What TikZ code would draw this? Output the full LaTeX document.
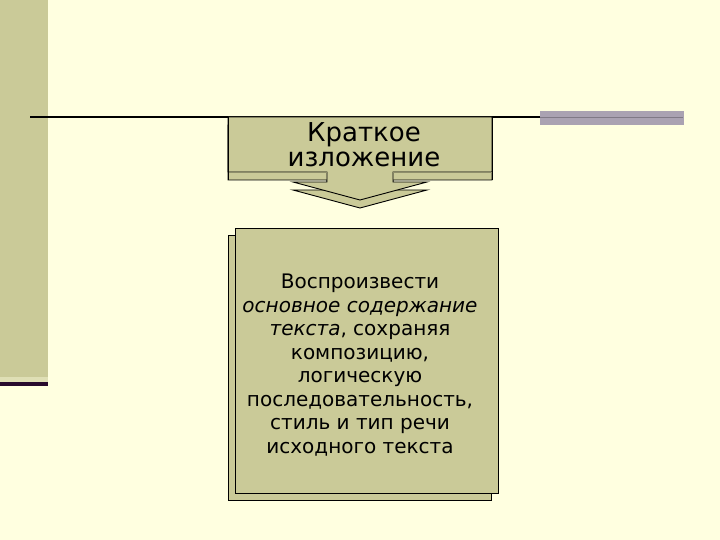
\documentclass[tikz,border=0pt]{standalone}
\usepackage{fontspec}
\setmainfont{DejaVu Sans}
\definecolor{bgyel}{RGB}{255,255,224}
\definecolor{olive}{RGB}{202,202,152}
\definecolor{barg}{RGB}{170,162,178}
\definecolor{darkpur}{RGB}{40,10,45}
\tikzset{
  facefill/.style={fill=olive, draw=black, line width=0.9pt, line join=miter},
  bodytext/.style={align=center, font=\fontsize{20}{23.5}\selectfont, text=black, inner sep=0pt},
  headtext/.style={align=center, font=\fontsize{26}{25}\selectfont, text=black, inner sep=0pt}
}
\begin{document}
\begin{tikzpicture}[x=1pt,y=-1pt]
\useasboundingbox (0,0) rectangle (720,540);
\fill[bgyel] (0,0) rectangle (720,540);
% left strip
\fill[olive] (0,0) rectangle (48,377);
\fill[olive!60!bgyel] (0,377) rectangle (48,382);
\fill[darkpur] (0,382) rectangle (48,385.5);
% horizontal rule and right bar
\draw[black, line width=2pt] (30,117.5) -- (540,117.5);
\fill[barg] (540,111.5) rectangle (684,125.5);
\draw[barg!75!black, line width=1.2pt] (540,117.5) -- (683,117.5);
% header callout (3D: back copy shifted down)
\begin{scope}[yshift=-8pt]
\path[facefill] (228,117) -- (492,117) -- (492,172) -- (393,172) -- (393,182) -- (427,182) -- (360,200) -- (293,182) -- (327,182) -- (327,172) -- (228,172) -- cycle;
\end{scope}
\path[facefill] (228,117) -- (492,117) -- (492,172) -- (393,172) -- (393,182) -- (427,182) -- (360,200) -- (293,182) -- (327,182) -- (327,172) -- (228,172) -- cycle;
\draw[olive!70!black, line width=0.6pt] (228,172) -- (327,172) (393,172) -- (492,172);
\draw[black, line width=0.9pt] (228,117) -- (228,180) (492,117) -- (492,180);
\node[headtext] (head) at (364,145) {Краткое\\изложение};
% body box (3D stacked)
\draw[facefill] (228,235) rectangle (491,500);
\draw[facefill] (235,228) rectangle (498,493);
\node[bodytext] (body) at (360,365) {Воспроизвести\\\textit{основное содержание}\\\textit{текста}, сохраняя\\композицию,\\логическую\\последовательность,\\стиль и тип речи\\исходного текста};
\end{tikzpicture}
\end{document}
